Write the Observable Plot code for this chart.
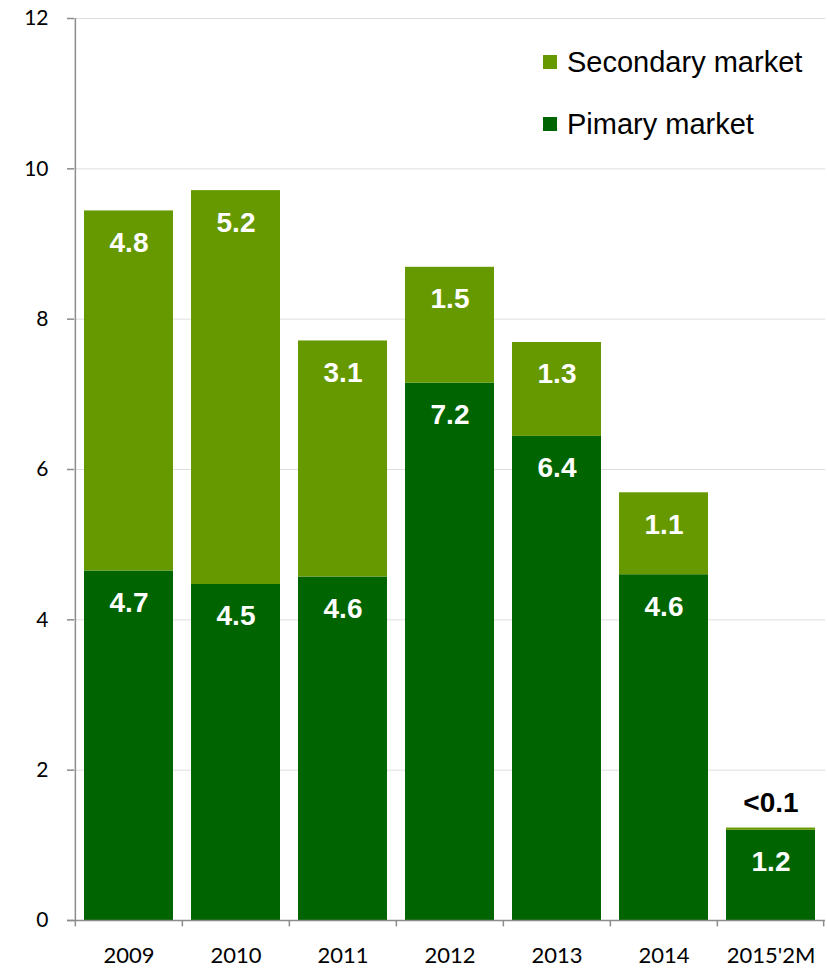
<!DOCTYPE html>
<html>
<head>
<meta charset="utf-8">
<script src="https://cdn.jsdelivr.net/npm/d3@7"></script>
<script src="https://cdn.jsdelivr.net/npm/@observablehq/plot@0.6"></script>
<style>
  body { margin: 0; background: #fff; }
  #wrap { position: relative; width: 827px; height: 968px; }
  .legend { position: absolute; left: 543px; font-family: "Liberation Sans", Arial, sans-serif; font-size: 29px; color: #000; display: flex; align-items: center; }
  .legend span.sw { display: inline-block; width: 14px; height: 14px; margin-right: 10px; }
</style>
</head>
<body>
<div id="wrap"></div>
<script>
const years = ["2009", "2010", "2011", "2012", "2013", "2014", "2015'2M"];
const primary = [4.65, 4.47, 4.57, 7.15, 6.44, 4.60, 1.20];
const secondary = [4.79, 5.24, 3.14, 1.54, 1.25, 1.09, 0.03];
const primaryLabels = ["4.7", "4.5", "4.6", "7.2", "6.4", "4.6", "1.2"];
const secondaryLabels = ["4.8", "5.2", "3.1", "1.5", "1.3", "1.1", "<0.1"];
const seriesNames = ["Pimary market", "Secondary market"];
const colors = ["#006400", "#669900"];
const yTicks = [0, 2, 4, 6, 8, 10, 12];

const rows = [];
years.forEach((y, i) => {
  rows.push({year: y, series: seriesNames[0], value: primary[i]});
  rows.push({year: y, series: seriesNames[1], value: secondary[i]});
});
const labelsP = years.map((y, i) => ({year: y, v: primary[i], t: primaryLabels[i]}));
const labelsS = years.map((y, i) => ({year: y, v: primary[i] + secondary[i], t: secondaryLabels[i], small: secondary[i] < 0.5}));

const W = 827, H = 968, ML = 74, MR = 2, MT = 18, MB = 48;
const step = (W - ML - MR) / years.length;
const labelFont = "'Liberation Sans', Arial, sans-serif";

const chart = Plot.plot({
  width: W, height: H,
  marginLeft: ML, marginRight: MR, marginTop: MT, marginBottom: MB,
  style: {fontFamily: "Lato, 'Open Sans', sans-serif", fontSize: "21px", color: "#000", background: "#fff"},
  x: {domain: years, paddingInner: 0.17, paddingOuter: 0.085, label: null},
  y: {domain: [0, 12], ticks: yTicks, label: null},
  color: {domain: seriesNames, range: colors},
  marks: [
    Plot.gridY(yTicks.filter(d => d > 0), {stroke: "#dedede", strokeOpacity: 1, strokeWidth: 1}),
    Plot.barY(rows, {x: "year", y: "value", fill: "series", order: seriesNames}),
    Plot.ruleX([years[0]], {x: d => d, dx: -step / 2, y1: 0, y2: 12, stroke: "#8c8c8c", strokeWidth: 1.5}),
    Plot.ruleY([0], {stroke: "#8c8c8c", strokeWidth: 1.5, insetLeft: -7}),
    Plot.ruleX(years, {x: d => d, dx: -step / 2, y1: 0, y2: -0.085, stroke: "#8c8c8c", strokeWidth: 1.5}),
    Plot.ruleX([years[years.length - 1]], {x: d => d, dx: step / 2 - 1, y1: 0, y2: -0.085, stroke: "#8c8c8c", strokeWidth: 1.5}),
    Plot.axisY({ticks: yTicks, tickSize: 7, tickPadding: 19, stroke: "#8c8c8c", strokeWidth: 1.5, fontSize: 21, label: null}),
    Plot.axisX({tickSize: 0, tickPadding: 27, fontSize: 22, label: null}),
    Plot.text(labelsP, {x: "year", y: "v", text: "t", dy: 32, fill: "#fff", fontWeight: "bold", fontSize: 28, fontFamily: labelFont, lineAnchor: "middle"}),
    Plot.text(labelsS.filter(d => !d.small), {x: "year", y: "v", text: "t", dy: 32, fill: "#fff", fontWeight: "bold", fontSize: 28, fontFamily: labelFont, lineAnchor: "middle"}),
    Plot.text(labelsS.filter(d => d.small), {x: "year", y: "v", text: "t", dy: -25, fill: "#000", fontWeight: "bold", fontSize: 28, fontFamily: labelFont, lineAnchor: "middle"})
  ]
});

const wrap = document.getElementById("wrap");
wrap.appendChild(chart);
[[seriesNames[1], colors[1], 62], [seriesNames[0], colors[0], 124]].forEach(([name, col, cy]) => {
  const d = document.createElement("div");
  d.className = "legend";
  d.style.top = (cy - 16) + "px";
  d.style.height = "32px";
  d.innerHTML = `<span class="sw" style="background:${col}"></span><span>${name}</span>`;
  wrap.appendChild(d);
});
</script>
</body>
</html>
